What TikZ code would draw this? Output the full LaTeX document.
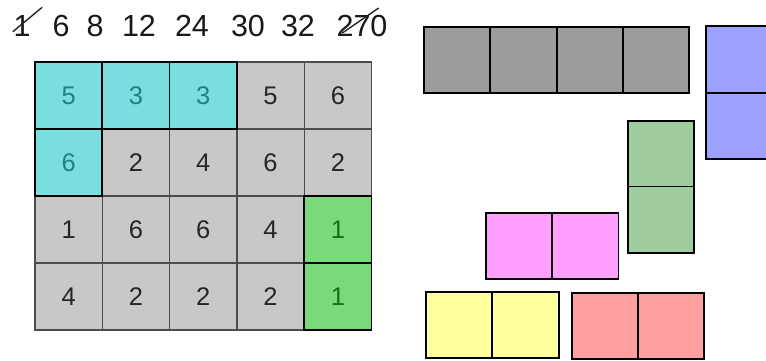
\documentclass[tikz,border=0pt]{standalone}
\usepackage{fontspec}
\setmainfont{Liberation Sans}

\definecolor{cellgray}{RGB}{200,200,200}
\definecolor{cellcyan}{RGB}{122,222,222}
\definecolor{cellgreen}{RGB}{120,218,120}
\definecolor{cyantext}{RGB}{30,130,130}
\definecolor{greentext}{RGB}{20,115,20}
\definecolor{pcgray}{RGB}{156,156,156}
\definecolor{pcblue}{RGB}{156,160,255}
\definecolor{pcgreen}{RGB}{160,205,160}
\definecolor{pcpink}{RGB}{255,160,255}
\definecolor{pcyellow}{RGB}{255,255,156}
\definecolor{pcred}{RGB}{255,160,160}

\tikzset{
  gcell/.style={draw=black!70, line width=1.2pt, fill=cellgray, minimum width=67.3pt, minimum height=67pt, inner sep=0pt, outer sep=0pt, text=black!85, font=\fontsize{25.5}{25.5}\selectfont},
  ccell/.style={gcell, draw=black, line width=1.7pt, fill=cellcyan, text=cyantext},
  ecell/.style={gcell, draw=black, line width=1.7pt, fill=cellgreen, text=greentext},
  piece/.style={draw=black, line width=1.8pt, minimum width=66.3pt, minimum height=66.4pt, inner sep=0pt, outer sep=0pt},
  toplab/.style={font=\fontsize{30.5}{30.5}\selectfont, inner sep=0pt, text=black!90},
  strike/.style={line width=1.4pt, black!85}
}

\begin{document}
\begin{tikzpicture}[x=1pt,y=-1pt]
  \useasboundingbox (0,0) rectangle (766,360);

  % numbers on top
  \foreach \x/\t [count=\i] in {22/1,61/6,95/8,139/12,192/24,248/30,298/32,362/270}
    \node[toplab] (top\i) at (\x,26) {\t};
  \draw[strike] ([xshift=-0.5pt,yshift=5pt]top1.south west) -- ([xshift=11.5pt,yshift=8pt]top1.north east);
  \draw[strike] ([xshift=6pt,yshift=4pt]top8.south west) -- ([xshift=-9pt,yshift=7pt]top8.north east);

  % board
  \foreach \c/\r/\v in {3/0/5,4/0/6,1/1/2,2/1/4,3/1/6,4/1/2,0/2/1,1/2/6,2/2/6,3/2/4,0/3/4,1/3/2,2/3/2,3/3/2}
    \node[gcell] (cell-\c-\r) at ({68.65+67.3*\c},{95.5+67*\r}) {\v};
  \foreach \c/\r/\v in {0/0/5,1/0/3,2/0/3,0/1/6}
    \node[ccell] (cell-\c-\r) at ({68.65+67.3*\c},{95.5+67*\r}) {\v};
  \foreach \c/\r/\v in {4/2/1,4/3/1}
    \node[ecell] (cell-\c-\r) at ({68.65+67.3*\c},{95.5+67*\r}) {\v};

  % loose pieces
  \foreach \x/\y/\col/\name in {457.2/60/pcgray/bar1,523.5/60/pcgray/bar2,589.8/60/pcgray/bar3,656.1/60/pcgray/bar4,
                                739/59.4/pcblue/blue1,739/126/pcblue/blue2,
                                661/154/pcgreen/green1,661/219.7/pcgreen/green2,
                                519.2/246/pcpink/pink1,585.4/246/pcpink/pink2,
                                459.2/325/pcyellow/yellow1,525.5/325/pcyellow/yellow2,
                                604.8/326/pcred/red1,670.9/326/pcred/red2}
    \node[piece, fill=\col] (\name) at (\x,\y) {};
\end{tikzpicture}
\end{document}
